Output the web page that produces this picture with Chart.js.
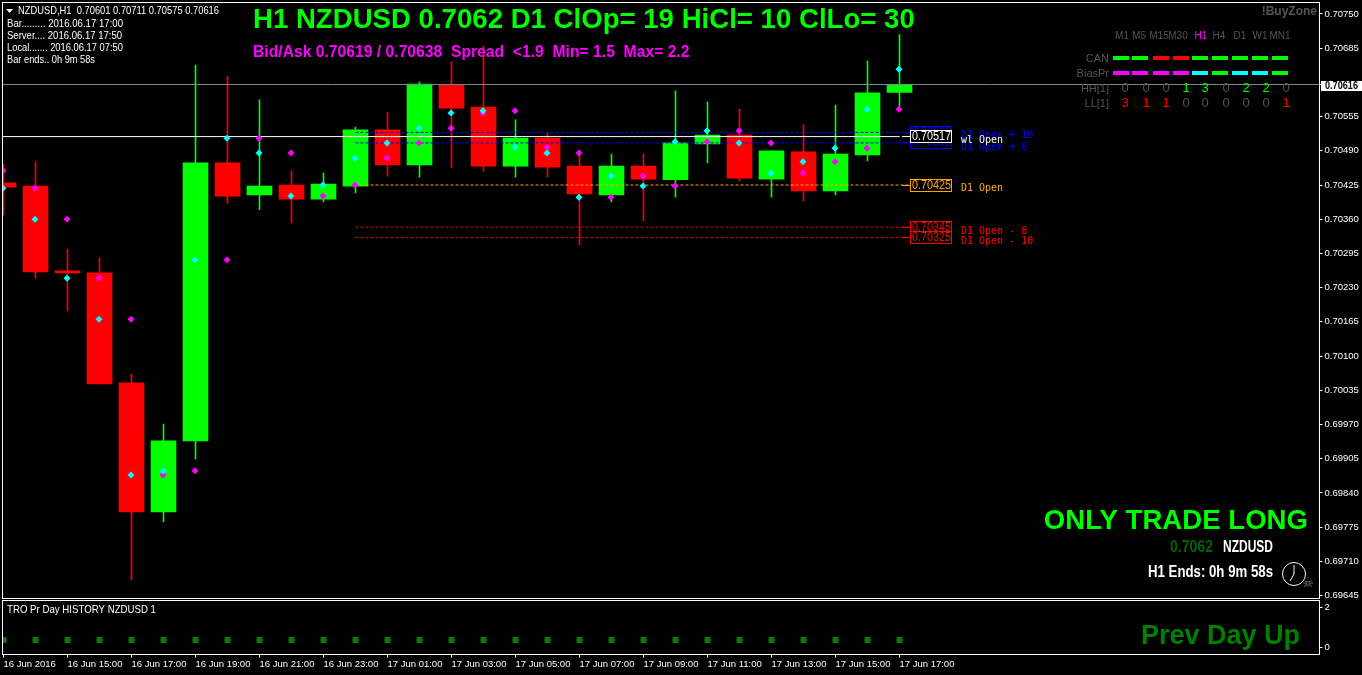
<!DOCTYPE html>
<html><head><meta charset="utf-8">
<style>html,body{margin:0;padding:0;background:#000;overflow:hidden}#w{position:relative;width:1362px;height:675px}canvas{display:block}</style>
<script src="https://cdn.jsdelivr.net/npm/chart.js@4/dist/chart.umd.min.js"></script>
</head><body><div id="w"><canvas id="c" width="1362" height="675"></canvas></div>
<script>
const barTimes=['16 Jun 2016','16 Jun 14:00','16 Jun 15:00','16 Jun 16:00','16 Jun 17:00','16 Jun 18:00','16 Jun 19:00','16 Jun 20:00','16 Jun 21:00','16 Jun 22:00','16 Jun 23:00','17 Jun 00:00','17 Jun 01:00','17 Jun 02:00','17 Jun 03:00','17 Jun 04:00','17 Jun 05:00','17 Jun 06:00','17 Jun 07:00','17 Jun 08:00','17 Jun 09:00','17 Jun 10:00','17 Jun 11:00','17 Jun 12:00','17 Jun 13:00','17 Jun 14:00','17 Jun 15:00','17 Jun 16:00','17 Jun 17:00'];
const opens =[.70429,.70423,.70262,.70258,.70049,.69804,.69939,.70467,.70406,.70425,.70398,.70423,.70530,.70463,.70615,.70573,.70461,.70514,.70461,.70406,.70461,.70435,.70503,.70520,.70436,.70488,.70414,.70482,.70601];
const highs =[.70465,.70469,.70303,.70286,.70066,.69971,.70653,.70632,.70587,.70452,.70448,.70535,.70562,.70621,.70659,.70689,.70549,.70524,.70486,.70484,.70484,.70604,.70583,.70569,.70490,.70539,.70577,.70661,.70711];
const lows  =[.70368,.70248,.70186,.70047,.69675,.69785,.69904,.70391,.70378,.70353,.70393,.70410,.70442,.70440,.70459,.70452,.70440,.70440,.70311,.70393,.70357,.70402,.70467,.70433,.70402,.70395,.70406,.70471,.70575];
const closes=[.70421,.70260,.70258,.70047,.69804,.69939,.70467,.70404,.70423,.70398,.70427,.70530,.70463,.70617,.70571,.70461,.70514,.70459,.70408,.70461,.70436,.70505,.70520,.70438,.70490,.70414,.70484,.70600,.70616];
const cyanDots=[.70419,.70360,.70248,.70170,.69874,.69882,.70283,.70514,.70486,.70404,.70425,.70476,.70505,.70533,.70562,.70566,.70497,.70486,.70402,.70442,.70423,.70507,.70528,.70505,.70448,.70469,.70495,.70569,.70645];
const magentaDots=[.70452,.70419,.70360,.70248,.70170,.69874,.69882,.70283,.70514,.70486,.70404,.70425,.70476,.70505,.70533,.70562,.70566,.70497,.70486,.70402,.70442,.70423,.70507,.70528,.70505,.70448,.70469,.70495,.70569];
const prevDay=[.35,.35,.35,.35,.35,.35,.35,.35,.35,.35,.35,.35,.35,.35,.35,.35,.35,.35,.35,.35,.35,.35,.35,.35,.35,.35,.35,.35,.35];
const priceTicks=[.70750,.70685,.70555,.70490,.70425,.70360,.70295,.70230,.70165,.70100,.70035,.69970,.69905,.69840,.69775,.69710,.69645];
const subTicks=[2,0];
const lastPrice=.70616, weekOpen=.70517, d1Open=.70425;
const upperLevels=[.70525,.70505], lowerLevels=[.70345,.70325];
const upperNames=['D1 Open + 10','D1 Open + 8'], lowerNames=['D1 Open - 8','D1 Open - 10'];
const tfNames=['M1','M5','M15','M30','H1','H4','D1','W1','MN1'];
const canRow=['u','u','d','d','u','u','u','u','u'];
const biasRow=['m','m','m','m','c','u','c','c','u'];
const hhRow=[0,0,0,1,3,0,2,2,0];
const llRow=[3,1,1,0,0,0,0,0,1];

const SANS='"Liberation Sans",Arial,sans-serif';
const MONO='"DejaVu Sans Mono",monospace';
const UP='#00ff00',DN='#ff0000',CY='#00ffff',MG='#ff00ff',GR='#555555';
const lastBar=barTimes.length-1, xMin=-1/32, xMax=1316/32, levelStart=11, levelEnd=28.33;

const seg=(a,b,v)=>[{x:a,y:v},{x:b,y:v}];
const lineDs=(data,color,dash)=>({type:'line',data,borderColor:color,borderWidth:1,borderDash:dash||[],pointRadius:0,xAxisID:'x',yAxisID:'y',order:2,fill:false,tension:0});
const barCol=i=>closes[i]>=opens[i]?UP:DN;
const dotDs=(vals,color)=>({type:'line',data:vals.map((v,i)=>({x:i-.015,y:v})),showLine:false,pointStyle:'rectRot',pointRadius:3.5,pointBackgroundColor:color,pointBorderWidth:0,xAxisID:'x',yAxisID:'y',order:1});
const noPad=s=>{s.paddingLeft=s.paddingRight=s.paddingTop=s.paddingBottom=0;};

function T(ctx,t,x,y,font,color,align){ctx.font=font;ctx.fillStyle=color;ctx.textAlign=align||'left';ctx.textBaseline='middle';ctx.fillText(t,x,y);}
// text squeezed to span x0..x1 (the reference uses condensed faces that are not installed)
function F(ctx,t,x0,x1,y,font,color){ctx.save();ctx.font=font;ctx.fillStyle=color;ctx.textAlign='left';ctx.textBaseline='middle';
  const w=ctx.measureText(t).width;ctx.translate(x0,y);ctx.scale((x1-x0)/w,1);ctx.fillText(t,0,0);ctx.restore();}
const overlay={id:'overlay',afterDatasetsDraw(chart){
  const c=chart.ctx,sy=chart.scales.y;c.save();
  c.strokeStyle='#fff';c.lineWidth=1;
  c.strokeRect(2.5,2.5,1317,596);c.strokeRect(2.5,600.5,1317,54);
  // price tags
  const tag=(v,col)=>{const p=sy.getPixelForValue(v),y=Math.floor(p);
    c.strokeStyle=col;c.beginPath();c.moveTo(902,y+.5);c.lineTo(910,y+.5);c.stroke();
    c.fillStyle='#000';c.fillRect(910,y-6,42,13);c.strokeRect(910.5,y-5.5,41,12);
    F(c,v.toFixed(5),912,951,y+1,'12px '+SANS,col);};
  upperLevels.forEach(v=>tag(v,'#0000ff'));
  tag(weekOpen,'#ffffff');tag(d1Open,'#ffa500');lowerLevels.forEach(v=>tag(v,'#ff0000'));
  const m='10px '+MONO;
  T(c,upperNames[0],961,135.5,m,'#0000ff');T(c,upperNames[1],961,147,m,'#0000ff');
  T(c,'wl Open',961,140.5,m,'#ffffff');T(c,'D1 Open',961,188.5,m,'#ffa500');
  T(c,lowerNames[0],961,231,m,'#ff0000');T(c,lowerNames[1],961,241,m,'#ff0000');
  // last price tag
  const ly=Math.floor(sy.getPixelForValue(lastPrice));
  c.fillStyle='#fff';c.fillRect(1321,ly-3,41,10);c.fillRect(1319,ly,3,1);
  F(c,lastPrice.toFixed(5),1325,1358,ly+2,'bold 11px '+SANS,'#000');
  // top-left text
  c.fillStyle='#fff';c.beginPath();c.moveTo(6,9);c.lineTo(13,9);c.lineTo(9.5,13);c.closePath();c.fill();
  const tl='11px '+SANS;
  F(c,'NZDUSD,H1  0.70601 0.70711 0.70575 0.70616',18,219,10.5,tl,'#fff');
  F(c,'Bar......... 2016.06.17 17:00',7,123,23.5,tl,'#fff');
  F(c,'Server.... 2016.06.17 17:50',7,122,35.5,tl,'#fff');
  F(c,'Local....... 2016.06.17 07:50',7,123,47.5,tl,'#fff');
  F(c,'Bar ends.. 0h 9m 58s',7,95,59.5,tl,'#fff');
  F(c,'TRO Pr Day HISTORY NZDUSD 1',7,156,609.5,tl,'#fff');
  // headlines
  T(c,'H1 NZDUSD 0.7062 D1 ClOp= 19 HiCl= 10 ClLo= 30',253,20.5,'bold 27.6px '+SANS,UP);
  T(c,'Bid/Ask 0.70619 / 0.70638  Spread  <1.9  Min= 1.5  Max= 2.2',253,52.5,'bold 15.7px '+SANS,MG);
  T(c,'!BuyZone',1317,11.5,'bold 12px '+SANS,GR,'right');
  // timeframe matrix
  const cx=[1122,1139,1159,1178,1201,1219,1240,1260,1280],dx=[1113,1132,1153,1173,1192,1212,1232,1252,1272],nx=[1125,1146,1166,1186,1205,1226,1246,1266,1286];
  const colr={u:UP,d:DN,m:MG,c:CY};
  tfNames.forEach((n,i)=>{T(c,n,cx[i],36,'10px '+SANS,n==='H1'?MG:GR,'center');
    c.fillStyle=colr[canRow[i]];c.fillRect(dx[i],56,16,4);
    c.fillStyle=colr[biasRow[i]];c.fillRect(dx[i],71,16,4);
    T(c,String(hhRow[i]),nx[i],88.5,'13px '+SANS,hhRow[i]?UP:GR,'center');
    T(c,String(llRow[i]),nx[i],103.5,'13px '+SANS,llRow[i]?DN:GR,'center');});
  const s='11px '+SANS;
  T(c,'CAN',1109,58.5,s,GR,'right');T(c,'BiasPr',1109,73.5,s,GR,'right');
  T(c,'HH[1]',1109,88.5,s,GR,'right');T(c,'LL[1]',1109,103.5,s,GR,'right');
  // bottom right
  T(c,'ONLY TRADE LONG',1308,521.5,'bold 27.6px '+SANS,UP,'right');
  const nb='bold 17px '+SANS;
  F(c,'0.7062',1170,1213,547.5,nb,'#006400');F(c,'NZDUSD',1223,1273,547.5,nb,'#fff');
  F(c,'H1 Ends: 0h 9m 58s',1148,1273,572.5,nb,'#fff');
  T(c,'Prev Day Up',1300,636.5,'bold 27px '+SANS,'#008000','right');
  // clock
  c.strokeStyle='#fff';c.lineWidth=1;c.beginPath();c.arc(1294,574,11.5,0,Math.PI*2);c.stroke();
  c.beginPath();c.moveTo(1294,565);c.lineTo(1294,574);c.lineTo(1290,581);c.stroke();
  T(c,'☠',1308,584,'13px "DejaVu Sans"','#777777','center');
  c.restore();
}};

new Chart(document.getElementById('c'),{
  data:{datasets:[
    lineDs(seg(xMin,xMax,lastPrice),'#778899'),
    lineDs(seg(xMin,lastBar,weekOpen),'#ffffff'),
    ...upperLevels.map(v=>lineDs(seg(levelStart,levelEnd,v),'#0000ff',[3,2])),
    lineDs(seg(levelStart,levelEnd,d1Open),'#ffa500',[3,2]),
    ...lowerLevels.map(v=>lineDs(seg(levelStart,levelEnd,v),'#c81414',[3,2])),
    dotDs(cyanDots,CY),dotDs(magentaDots,MG),
    {type:'bar',data:barTimes.map((t,i)=>({x:i,y:[opens[i],closes[i]]})),backgroundColor:barTimes.map((t,i)=>barCol(i)),barThickness:25,grouped:false,xAxisID:'x',yAxisID:'y',order:3},
    {type:'bar',data:barTimes.map((t,i)=>({x:i,y:[lows[i],highs[i]]})),backgroundColor:barTimes.map((t,i)=>barCol(i)),barThickness:1,grouped:false,xAxisID:'x',yAxisID:'y',order:4},
    {type:'line',data:prevDay.map((v,i)=>({x:i,y:v})),showLine:false,pointStyle:'rect',pointRadius:4.25,pointBackgroundColor:'#008000',pointBorderWidth:0,xAxisID:'x',yAxisID:'y2',order:1}
  ]},
  options:{responsive:false,animation:false,devicePixelRatio:1,
    layout:{autoPadding:false,padding:{left:2.5,top:2.5,right:0,bottom:0}},
    plugins:{legend:{display:false},tooltip:{enabled:false}},
    scales:{
      x:{type:'linear',offset:false,min:xMin,max:xMax,position:'bottom',
        afterBuildTicks:s=>{s.ticks=barTimes.map((t,i)=>({value:i})).filter(t=>t.value%2===0);},
        afterFit:s=>{s.height=20.5;noPad(s);},
        grid:{drawOnChartArea:false,drawTicks:true,tickLength:3,color:'#fff',offset:false},border:{display:false},
        ticks:{autoSkip:false,maxRotation:0,align:'start',padding:1,color:'#fff',font:{family:SANS,size:9.5},callback:v=>barTimes[v]}},
      y:{type:'linear',position:'right',stack:'panels',stackWeight:596,weight:1,min:.696394,max:.707718,
        afterBuildTicks:s=>{s.ticks=priceTicks.map(v=>({value:v}));},
        afterFit:s=>{s.width=42.5;noPad(s);},
        grid:{drawOnChartArea:false,tickLength:3,color:'#fff'},border:{display:false},
        ticks:{autoSkip:false,padding:2,color:'#fff',font:{family:SANS,size:9.5},callback:v=>v.toFixed(5)}},
      y2:{type:'linear',position:'right',stack:'panels',stackWeight:56,weight:2,min:-.375,max:2.425,
        afterBuildTicks:s=>{s.ticks=subTicks.map(v=>({value:v}));},
        afterFit:s=>{s.width=42.5;noPad(s);},
        grid:{drawOnChartArea:false,tickLength:3,color:'#fff'},border:{display:false},
        ticks:{autoSkip:false,padding:2,color:'#fff',font:{family:SANS,size:9.5},callback:v=>String(v)}}
    }},
  plugins:[overlay]
});
</script></body></html>
